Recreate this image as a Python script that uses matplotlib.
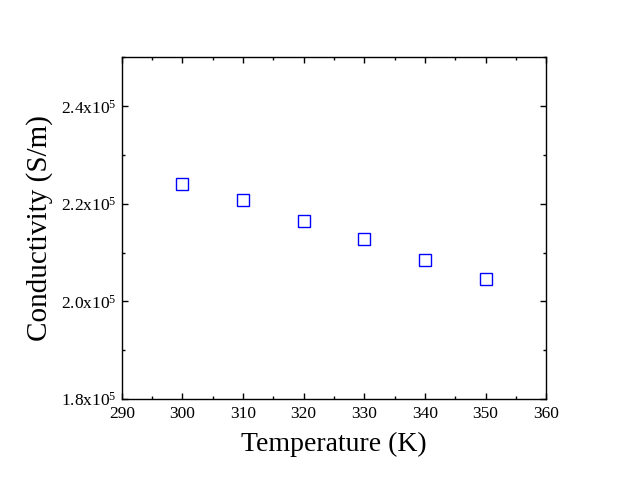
import matplotlib
matplotlib.use('Agg')
import matplotlib.pyplot as plt
from matplotlib.ticker import MultipleLocator, FuncFormatter

# Data.
temperature = [300, 310, 320, 330, 340, 350]
conductivity = [2.240e5, 2.207e5, 2.164e5, 2.127e5, 2.084e5, 2.045e5]

plt.rcParams['font.family'] = 'Liberation Serif'
plt.rcParams['mathtext.fontset'] = 'custom'
plt.rcParams['mathtext.rm'] = 'Liberation Serif'
plt.rcParams['mathtext.it'] = 'Liberation Serif:italic'


def sci_label(value, pos):
    '''Format tick as 2.0x10^5'''
    return f'{value / 1e5:.1f}x10$^{{5}}$'


fig = plt.figure(figsize=(6.41, 4.83), dpi=100)
ax = fig.add_axes([0.190, 0.174, 0.662, 0.707])

ax.plot(temperature, conductivity, linestyle='none', marker='s',
        markersize=8.5, markerfacecolor='none', markeredgecolor='#0000ff',
        markeredgewidth=1.0)

ax.set_xlim(290, 360)
ax.set_ylim(1.8e5, 2.5e5)

ax.xaxis.set_major_locator(MultipleLocator(10))
ax.xaxis.set_minor_locator(MultipleLocator(5))
ax.yaxis.set_major_locator(MultipleLocator(0.2e5))
ax.yaxis.set_minor_locator(MultipleLocator(0.1e5))
ax.yaxis.set_major_formatter(FuncFormatter(sci_label))

ax.tick_params(which='both', direction='in', top=True, right=True,
               labelsize=12.5, width=1.0)
ax.tick_params(which='major', length=4.5)
ax.tick_params(axis='x', which='major', pad=5)
ax.tick_params(which='minor', length=2.5)
for spine in ax.spines.values():
    spine.set_linewidth(1.0)

ax.set_xlabel('Temperature (K)', fontsize=20, labelpad=7)
ax.set_ylabel('Conductivity (S/m)', fontsize=21, labelpad=6)

fig.savefig('out.png', dpi=100)
